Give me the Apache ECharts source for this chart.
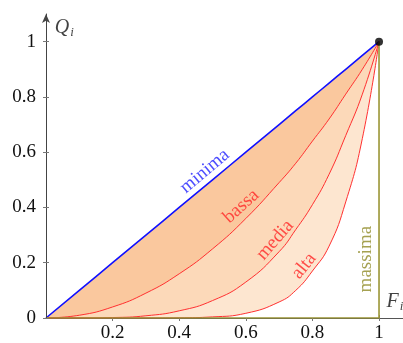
<!DOCTYPE html>
<html>
<head>
<meta charset="utf-8">
<script src="https://cdn.jsdelivr.net/npm/echarts@6/dist/echarts.min.js"></script>
<style>
  html, body { margin: 0; padding: 0; background: #fff; }
  #chart { width: 403px; height: 343px; }
</style>
</head>
<body>
<div id="chart"></div>
<script>
// quote cumulate F_i
var fx = [0, 0.1, 0.2, 0.3, 0.4, 0.5, 0.6, 0.7, 0.75, 0.8, 0.85, 0.9, 0.95, 1];
// curve di concentrazione Q_i
var minima = [0, 0.1, 0.2, 0.3, 0.4, 0.5, 0.6, 0.7, 0.75, 0.8, 0.85, 0.9, 0.95, 1];
var bassa = [0, 0.01, 0.04, 0.09, 0.16, 0.25, 0.36, 0.49, 0.56, 0.64, 0.72, 0.81, 0.9, 1];
var media = [0, 0.0001, 0.0016, 0.008, 0.026, 0.063, 0.13, 0.24, 0.32, 0.41, 0.52, 0.66, 0.81, 1];
var alta = [0, 0, 0, 0.0001, 0.0007, 0.004, 0.017, 0.058, 0.1, 0.17, 0.26, 0.42, 0.65, 1];
var massimaX = [0, 1, 1];
var massimaY = [0, 0, 1];
var tickX = [0.2, 0.4, 0.6, 0.8, 1];
var tickY = [0, 0.2, 0.4, 0.6, 0.8, 1];

var FONT = 'Liberation Serif';

function pairs(xs, ys) {
    var out = [];
    for (var i = 0; i < xs.length; i++) {
        out.push([xs[i], ys[i]]);
    }
    return out;
}

function curve(name, ys, lineColor, lineWidth, fill) {
    return {
        name: name,
        type: 'line',
        data: pairs(fx, ys),
        smooth: true,
        showSymbol: false,
        symbol: 'none',
        lineStyle: { color: lineColor, width: lineWidth },
        areaStyle: { color: fill, opacity: 1 },
        z: 2
    };
}

// etichetta di testo ancorata a un punto del piano
function tag(text, x, y, angle, color) {
    return {
        type: 'scatter',
        data: [[x, y]],
        symbolSize: 0,
        silent: true,
        z: 6,
        label: {
            show: true,
            position: 'inside',
            formatter: text,
            rotate: angle,
            color: color,
            fontFamily: FONT,
            fontSize: 19
        }
    };
}

var chart = echarts.init(document.getElementById('chart'));

var option = {
    animation: false,
    backgroundColor: '#fff',
    grid: { left: 46, right: 0, top: 14, bottom: 24 },
    xAxis: [{
        type: 'value', min: 0, max: 1.072,
        axisLine: { lineStyle: { color: '#555', width: 1 }, onZero: false },
        axisTick: { show: true, length: 3, customValues: tickX, lineStyle: { color: '#777' } },
        axisLabel: { customValues: tickX, margin: 6, color: '#111', fontFamily: FONT, fontSize: 19 },
        splitLine: { show: false }
    }, {
        type: 'value', min: 0, max: 1.072, position: 'bottom',
        axisLine: { show: false },
        axisTick: { show: true, inside: true, length: 3, customValues: tickX, lineStyle: { color: '#777' } },
        axisLabel: { show: false },
        splitLine: { show: false }
    }],
    yAxis: [{
        type: 'value', min: 0, max: 1.1, z: 10,
        axisLine: { show: true, symbol: ['none', 'arrow'], symbolSize: [6, 9], lineStyle: { color: '#444', width: 1 }, onZero: false },
        axisTick: { show: true, length: 3, customValues: tickY, lineStyle: { color: '#777' } },
        axisLabel: { customValues: tickY, margin: 10, color: '#111', fontFamily: FONT, fontSize: 19 },
        splitLine: { show: false }
    }, {
        type: 'value', min: 0, max: 1.1, position: 'left', z: 10,
        axisLine: { show: false },
        axisTick: { show: true, inside: true, length: 3, customValues: tickY, lineStyle: { color: '#777' } },
        axisLabel: { show: false },
        splitLine: { show: false }
    }],
    series: [
        curve('minima', minima, '#1010ff', 1.6, '#fac89e'),
        curve('bassa', bassa, '#ff3030', 1, '#fcd9b9'),
        curve('media', media, '#ff3030', 1, '#fde6d0'),
        curve('alta', alta, '#ff3030', 1, '#ffffff'),
        {
            name: 'massima',
            type: 'line',
            data: pairs(massimaX, massimaY),
            showSymbol: false,
            symbol: 'none',
            lineStyle: { color: '#9a9535', width: 1.6 },
            z: 4
        },
        {
            type: 'scatter',
            data: [[1, 1]],
            symbolSize: 8,
            itemStyle: { color: '#000' },
            z: 7
        },
        tag('minima', 0.477, 0.531, 40, '#2020ff'),
        tag('bassa', 0.586, 0.404, 42, '#ff2525'),
        tag('media', 0.688, 0.282, 49, '#ff2525'),
        tag('alta', 0.775, 0.188, 51, '#ff2525'),
        tag('massima', 0.961, 0.213, 90, '#8f8a25'),
        {
            type: 'scatter',
            data: [[0.055, 1.05]],
            symbolSize: 0,
            silent: true,
            z: 6,
            label: {
                show: true,
                position: 'inside',
                formatter: '{q|Q}{s|i}',
                rich: {
                    q: { fontFamily: FONT, fontStyle: 'italic', fontSize: 20, color: '#111' },
                    s: { fontFamily: FONT, fontStyle: 'italic', fontSize: 13, color: '#111', padding: [10, 0, 0, 1] }
                }
            }
        },
        {
            type: 'scatter',
            data: [[1.048, 0.058]],
            symbolSize: 0,
            silent: true,
            z: 6,
            label: {
                show: true,
                position: 'inside',
                formatter: '{f|F}{s|i}',
                rich: {
                    f: { fontFamily: FONT, fontStyle: 'italic', fontSize: 20, color: '#111' },
                    s: { fontFamily: FONT, fontStyle: 'italic', fontSize: 13, color: '#111', padding: [10, 0, 0, 1] }
                }
            }
        }
    ]
};

chart.setOption(option);
</script>
</body>
</html>
